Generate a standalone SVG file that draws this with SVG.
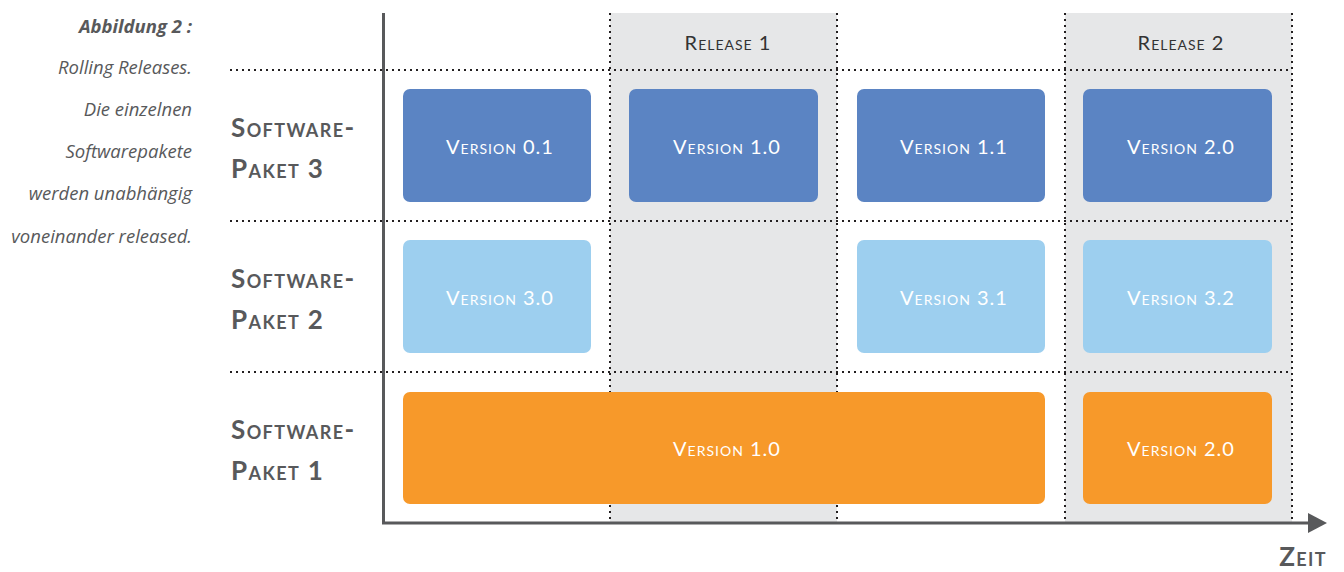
<svg xmlns="http://www.w3.org/2000/svg" width="1344" height="572" viewBox="0 0 1344 572">
<defs>
<style>
.cap{font-family:"Open Sans",Lato,sans-serif;font-style:italic;font-size:18.5px;fill:#58595b;text-anchor:end}
.row{font-family:Lato,"Open Sans",sans-serif;font-weight:bold;font-size:26px;fill:#58595b;font-variant:small-caps;letter-spacing:1.4px}
.rel{font-family:Lato,"Open Sans",sans-serif;font-size:20px;fill:#333;font-variant:small-caps;text-anchor:middle;letter-spacing:1px}
.ver{font-family:Lato,"Open Sans",sans-serif;font-size:20px;fill:#fff;font-variant:small-caps;text-anchor:middle;letter-spacing:1px}
.dot{stroke:#231f20;stroke-width:2;stroke-dasharray:2 4;fill:none}
.b3{fill:#5b84c3}
.b2{fill:#9dcfef}
.b1{fill:#f7992a}
.col{fill:#e6e7e8}
</style>
<marker id="arr" markerWidth="10" markerHeight="10" refX="0" refY="5" orient="auto" markerUnits="userSpaceOnUse" viewBox="0 0 10 10" overflow="visible">
<path d="M0,-5 L19,5 L0,15 Z" fill="#58595b"/>
</marker>
</defs>
<rect x="0" y="0" width="1344" height="572" fill="#fff"/>
<g id="caption">
<text class="cap" x="192" y="33" font-weight="bold">Abbildung 2 :</text>
<text class="cap" x="192" y="74">Rolling Releases.</text>
<text class="cap" x="192" y="116">Die einzelnen</text>
<text class="cap" x="192" y="158">Softwarepakete</text>
<text class="cap" x="192" y="200">werden unabhängig</text>
<text class="cap" x="192" y="243">voneinander released.</text>
</g>
<g id="release-columns">
<rect class="col" x="610" y="13" width="227" height="510"/>
<rect class="col" x="1065" y="13" width="227" height="510"/>
<text class="rel" x="728" y="50">Release 1</text>
<text class="rel" x="1181" y="50">Release 2</text>
</g>
<g id="grid">
<line class="dot" x1="230" y1="70" x2="1292" y2="70"/>
<line class="dot" x1="230" y1="221" x2="1292" y2="221"/>
<line class="dot" x1="230" y1="372" x2="1292" y2="372"/>
<line class="dot" x1="610" y1="13" x2="610" y2="523"/>
<line class="dot" x1="837" y1="13" x2="837" y2="523"/>
<line class="dot" x1="1065" y1="13" x2="1065" y2="523"/>
<line class="dot" x1="1292" y1="13" x2="1292" y2="523"/>
</g>
<g id="row-labels">
<text class="row" x="231" y="137">Software-</text>
<text class="row" x="231" y="178">Paket 3</text>
<text class="row" x="231" y="288">Software-</text>
<text class="row" x="231" y="329">Paket 2</text>
<text class="row" x="231" y="439">Software-</text>
<text class="row" x="231" y="480">Paket 1</text>
</g>
<g id="p3-v01"><rect class="b3" x="403" y="89" width="188" height="113" rx="7"/><text class="ver" x="500" y="154">Version 0.1</text></g>
<g id="p3-v10"><rect class="b3" x="629" y="89" width="189" height="113" rx="7"/><text class="ver" x="727" y="154">Version 1.0</text></g>
<g id="p3-v11"><rect class="b3" x="857" y="89" width="188" height="113" rx="7"/><text class="ver" x="954" y="154">Version 1.1</text></g>
<g id="p3-v20"><rect class="b3" x="1083" y="89" width="189" height="113" rx="7"/><text class="ver" x="1181" y="154">Version 2.0</text></g>
<g id="p2-v30"><rect class="b2" x="403" y="240" width="188" height="113" rx="7"/><text class="ver" x="500" y="305">Version 3.0</text></g>
<g id="p2-v31"><rect class="b2" x="857" y="240" width="188" height="113" rx="7"/><text class="ver" x="954" y="305">Version 3.1</text></g>
<g id="p2-v32"><rect class="b2" x="1083" y="240" width="189" height="113" rx="7"/><text class="ver" x="1181" y="305">Version 3.2</text></g>
<g id="p1-v10"><rect class="b1" x="403" y="392" width="642" height="112" rx="7"/><text class="ver" x="727" y="456">Version 1.0</text></g>
<g id="p1-v20"><rect class="b1" x="1083" y="392" width="189" height="112" rx="7"/><text class="ver" x="1181" y="456">Version 2.0</text></g>
<g id="axes">
<line x1="383.5" y1="13" x2="383.5" y2="524" stroke="#58595b" stroke-width="3"/>
<line x1="382" y1="523" x2="1308" y2="523" stroke="#58595b" stroke-width="3" marker-end="url(#arr)"/>
<text class="row" x="1327" y="566" text-anchor="end" font-size="22">Zeit</text>
</g>
</svg>
